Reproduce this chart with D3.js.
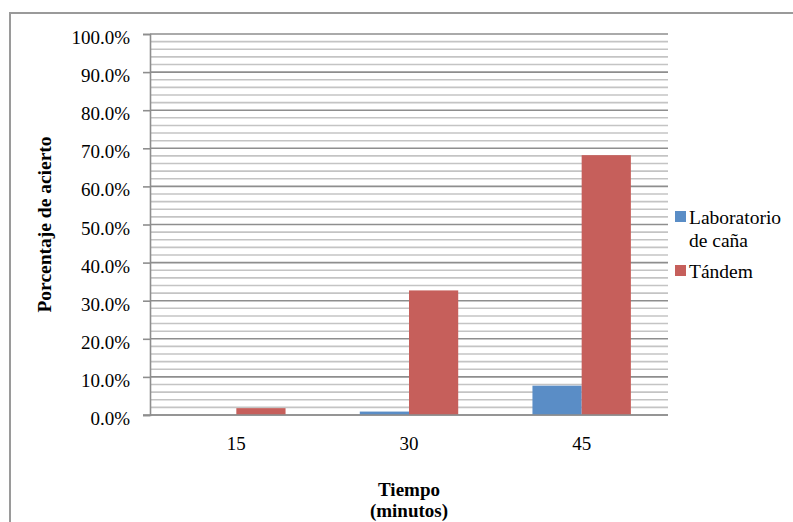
<!DOCTYPE html>
<html>
<head>
<meta charset="utf-8">
<script src="https://cdn.jsdelivr.net/npm/d3@7"></script>
<style>
  html, body { margin: 0; padding: 0; background: #fff; }
  svg { display: block; }
  text { font-family: "Liberation Serif", "Times New Roman", serif; fill: #000; }
</style>
</head>
<body>
<svg id="chart" width="793" height="522"></svg>
<script>
// Tiempo (minutos) por categoría
const categories = ["15", "30", "45"];
const seriesNames = ["Laboratorio de caña", "Tándem"];
// Porcentaje de acierto (%)
const laboratorio = [0.0, 0.9, 7.7];
const tandem = [1.8, 32.7, 68.2];
const yTicks = [0, 10, 20, 30, 40, 50, 60, 70, 80, 90, 100];
const yMinorTicks = d3.range(0, 101, 2);

const colors = ["#5A8DC6", "#C65F5B"];

const svg = d3.select("#chart");
const margin = { left: 150, right: 125, top: 34, bottom: 107 };
const W = 793, H = 522;
const x0 = margin.left, x1 = W - margin.right;
const yTop = margin.top, yBot = H - margin.bottom;

// Chart frame
svg.append("rect")
  .attr("x", 10).attr("y", 13)
  .attr("width", 820).attr("height", 540)
  .attr("fill", "none").attr("stroke", "#9a9a9a").attr("stroke-width", 2);

const x = d3.scaleBand().domain(categories).range([x0, x1]).paddingInner(0).paddingOuter(0);
const y = d3.scaleLinear().domain([0, 100]).range([yBot, yTop]);

// Minor gridlines
svg.append("g").selectAll("line")
  .data(yMinorTicks.filter(v => v % 10 !== 0))
  .join("line")
  .attr("x1", x0).attr("x2", x1)
  .attr("y1", d => y(d)).attr("y2", d => y(d))
  .attr("stroke", "#c4c4c4").attr("stroke-width", 1.6);

// Major gridlines
svg.append("g").selectAll("line")
  .data(yTicks)
  .join("line")
  .attr("x1", x0).attr("x2", x1)
  .attr("y1", d => y(d)).attr("y2", d => y(d))
  .attr("stroke", "#8e8e8e").attr("stroke-width", 1.6);

// Bars
const groupW = x.bandwidth() * 0.57;
const xs = d3.scaleBand().domain([0, 1]).range([0, groupW]);
const seriesData = [laboratorio, tandem];
seriesData.forEach((vals, si) => {
  svg.append("g").selectAll("rect")
    .data(vals.map((v, i) => ({ cat: categories[i], v })))
    .join("rect")
    .attr("x", d => x(d.cat) + (x.bandwidth() - groupW) / 2 + xs(si))
    .attr("width", xs.bandwidth())
    .attr("y", d => y(d.v))
    .attr("height", d => y(0) - y(d.v))
    .attr("fill", colors[si]);
});

// Y axis
const yAxis = d3.axisLeft(y).tickValues(yTicks).tickSize(7).tickPadding(13)
  .tickFormat(d => d.toFixed(1) + "%");
const gy = svg.append("g").attr("transform", `translate(${x0},0)`).call(yAxis);
gy.select(".domain").attr("stroke", "#8e8e8e").attr("stroke-width", 1.6);
gy.selectAll(".tick line").attr("stroke", "#8e8e8e").attr("stroke-width", 1.6);
gy.selectAll(".tick text")
  .attr("font-family", "Liberation Serif, serif")
  .attr("font-size", 19).attr("dy", "0.5em").attr("fill", "#000");

// Bottom axis line
svg.append("line")
  .attr("x1", x0 - 7).attr("x2", x1)
  .attr("y1", yBot).attr("y2", yBot)
  .attr("stroke", "#8e8e8e").attr("stroke-width", 1.6);

// X axis labels
const xAxis = d3.axisBottom(x).tickSize(0).tickPadding(22);
const gx = svg.append("g").attr("transform", `translate(0,${yBot})`).call(xAxis);
gx.select(".domain").remove();
gx.selectAll(".tick text")
  .attr("font-family", "Liberation Serif, serif")
  .attr("font-size", 19).attr("fill", "#000");

// Axis titles
svg.append("text")
  .attr("x", (x0 + x1) / 2).attr("y", 496)
  .attr("text-anchor", "middle").attr("font-weight", "bold").attr("font-size", 19)
  .text("Tiempo");
svg.append("text")
  .attr("x", (x0 + x1) / 2).attr("y", 517)
  .attr("text-anchor", "middle").attr("font-weight", "bold").attr("font-size", 19)
  .text("(minutos)");
svg.append("text")
  .attr("transform", `translate(51,${(yTop + yBot) / 2}) rotate(-90)`)
  .attr("text-anchor", "middle").attr("font-weight", "bold").attr("font-size", 19.5)
  .text("Porcentaje de acierto");

// Legend
const legend = svg.append("g");
const legendItems = [
  { color: colors[0], lines: ["Laboratorio", "de caña"], y: 224 },
  { color: colors[1], lines: [seriesNames[1]], y: 278 }
];
legendItems.forEach(item => {
  legend.append("rect")
    .attr("x", 675).attr("y", item.y - 13)
    .attr("width", 11).attr("height", 11)
    .attr("fill", item.color);
  item.lines.forEach((ln, i) => {
    legend.append("text")
      .attr("x", 689).attr("y", item.y + i * 23)
      .attr("font-size", 19.5)
      .text(ln);
  });
});
</script>
</body>
</html>
